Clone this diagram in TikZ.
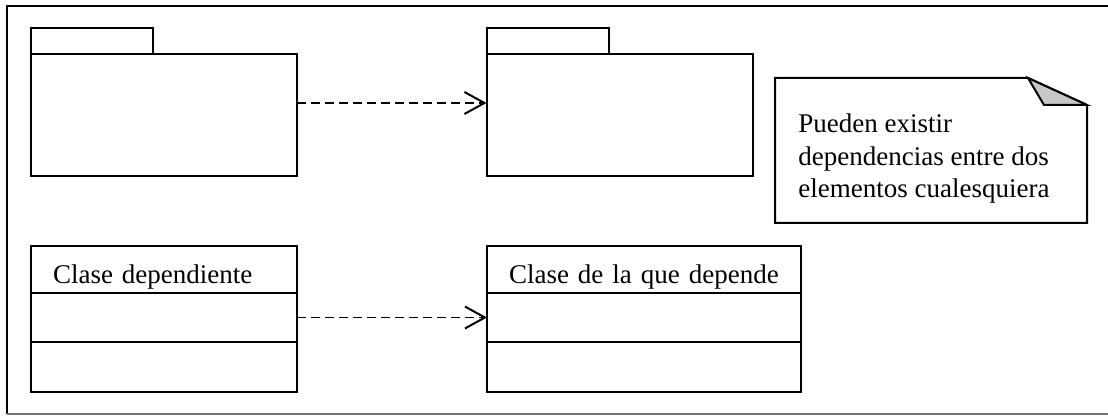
\documentclass[tikz,border=0pt]{standalone}
\usepackage{fontspec}
\setmainfont{Liberation Serif}
\usetikzlibrary{arrows.meta}
\usetikzlibrary{positioning}

\begin{document}
\begin{tikzpicture}[
		x=0.5pt, y=-0.5pt,
		packagenode/.style={
		% The shape:
		rectangle,
		% The size:
		minimum width=133pt,
		minimum height=61pt,
		inner sep=0pt,
		outer sep=0pt,
		% The border:
		line width=1pt,
		draw=black
			},
		tabnode/.style={
		% The shape:
		rectangle,
		% The size:
		minimum width=61pt,
		minimum height=13pt,
		inner sep=0pt,
		outer sep=0pt,
		% The border:
		line width=1pt,
		draw=black
			},
		classnode/.style={
		% The shape:
		rectangle,
		% The size:
		inner xsep=11pt,
		inner ysep=0pt,
		outer sep=0pt,
		text height=14.5pt,
		text depth=0pt,
		align=left,
		% The border:
		line width=1pt,
		draw=black,
		% Font
		font=\fontsize{13.5pt}{16.25pt}\selectfont
			},
		dependency/.style={
		line width=0.95pt,
		dash pattern=on 4.5pt off 2.5pt,
		-{Straight Barb[length=10pt,width=11pt,line width=1pt]}
			}
	]
	\useasboundingbox (0,0) rectangle (1108,416);

	% frame
	\draw [line width=1pt] (7,414) -- (7,6) -- (1108,6);
	\draw [line width=1pt, black!55] (7,414) -- (1108,414);

	% packages
	\node (pkgA)[packagenode] at (164,115) {};
	\node (tabA)[tabnode, above right=0pt and 0pt of pkgA.north west] {};
	\node (pkgB)[packagenode] at (619.5,115) {};
	\node (tabB)[tabnode, above right=0pt and 0pt of pkgB.north west] {};

	% classes
	\node (clsAname)[classnode, text width=111pt, minimum height=23.5pt, anchor=north west] at (31,246) {Clase dependiente};
	\node (clsAattr)[classnode, text width=111pt, minimum height=24.5pt, below=0pt of clsAname] {};
	\node (clsAops)[classnode, text width=111pt, minimum height=25pt, below=0pt of clsAattr] {};
	\node (clsBname)[classnode, text width=135pt, minimum height=23.5pt, anchor=north west] at (487,246) {Clase de la que depende};
	\node (clsBattr)[classnode, text width=135pt, minimum height=24.5pt, below=0pt of clsBname] {};
	\node (clsBops)[classnode, text width=135pt, minimum height=25pt, below=0pt of clsBattr] {};

	% note
	\coordinate (nNW) at (775,78);
	\coordinate (nFold) at (1028,78);
	\coordinate (nFlap) at (1044,105);
	\coordinate (nNE) at (1087,105);
	\coordinate (nSE) at (1087,223);
	\coordinate (nSW) at (775,223);
	\draw [line width=1pt, line join=miter] (nNW) -- (nFold) -- (nNE) -- (nSE) -- (nSW) -- cycle;
	\draw [line width=1pt, fill=black!22] (nFold) -- (nFlap) -- (nNE) -- cycle;
	\node (notetext)[anchor=north west, align=left, inner sep=0pt, font=\fontsize{13.5pt}{16.25pt}\selectfont] at (798,113.5) {Pueden existir\\dependencias entre dos\\elementos cualesquiera};

	\draw [dependency] ([yshift=6pt]pkgA.east) -- ([yshift=6pt]pkgB.west);
	\draw [dependency] (clsAattr) -- (clsBattr);
\end{tikzpicture}
\end{document}
